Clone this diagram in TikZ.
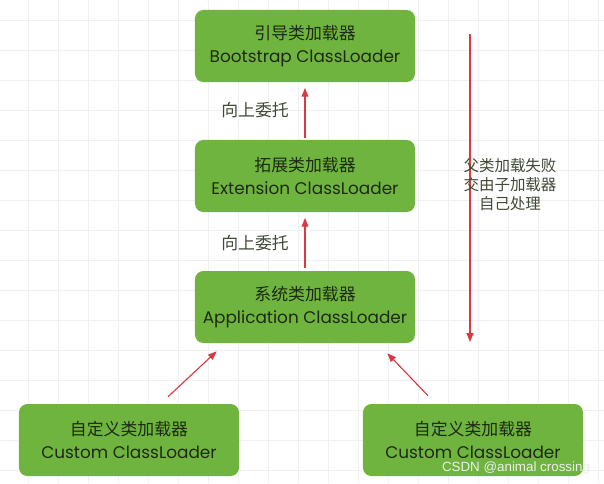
\documentclass[tikz,border=0pt]{standalone}
\usepackage{fontspec}
\setmainfont{Poppins}
\newfontfamily\cjk{Noto Sans CJK SC}
\newfontfamily\wmfont{Liberation Sans}
\usepackage{xcolor}
\usetikzlibrary{calc,arrows.meta,positioning}
\definecolor{loadc}{HTML}{6FB43F}
\definecolor{inkc}{HTML}{1E2A12}
\definecolor{arrc}{HTML}{D93A40}
\definecolor{gridc}{HTML}{F0F0F2}
\tikzset{
  ar/.style={-{Triangle[length=2.2mm,width=1.7mm]},line width=0.8pt,arrc},
  box/.style={fill=loadc,rounded corners=6pt,align=center,inner sep=0pt,
    minimum width=5.5cm,minimum height=1.8cm,text=inkc,font=\fontsize{12}{16}\selectfont},
  lbl/.style={text=inkc!85,font=\cjk\fontsize{12}{15}\selectfont},
  gridln/.style={gridc,line width=0.6pt}
}

\begin{document}
\begin{tikzpicture}[x=0.025cm,y=-0.025cm]
\fill[white] (0,0) rectangle (604,483);
\useasboundingbox (0,0) rectangle (604,483);
% background grid
\foreach \gx in {28,58,...,598} \draw[gridln] (\gx,0) -- (\gx,483);
\foreach \gy in {20,50,...,480} \draw[gridln] (0,\gy) -- (604,\gy);

\node[box] (boot) at (305,46) {{\cjk 引导类加载器}\\Bootstrap ClassLoader};
\node[box] (ext) at (305,176) {{\cjk 拓展类加载器}\\Extension ClassLoader};
\node[box] (app) at (305,307) {{\cjk 系统类加载器}\\Application ClassLoader};
\node[box] (cusl) at (129,440) {{\cjk 自定义类加载器}\\Custom ClassLoader};
\node[box] (cusr) at (473,440) {{\cjk 自定义类加载器}\\Custom ClassLoader};

% delegate upwards
\draw[ar,shorten >=4pt,shorten <=1pt] (ext.north) -- (boot.south);
\draw[ar,shorten >=4pt,shorten <=2pt] (app.north) -- (ext.south);
\node[lbl] (up1) at (255,110) {向上委托};
\node[lbl] (up2) at (255,243) {向上委托};
\draw[ar] ($(cusl.north)+(39,-7)$) -- ($(app.south west)+(22,8)$);
\draw[ar] ($(cusr.north)+(-45,-8)$) -- ($(app.south east)+(-28,10)$);

% parent failed, child handles it
\coordinate (failtop) at (470,34);
\coordinate (failbot) at (470,342);
\draw[ar] (failtop) -- (failbot);
\node[lbl,align=center,font=\cjk\fontsize{11}{13.5}\selectfont] (fail) at (510,185) {父类加载失败\\交由子加载器\\自己处理};

\node[font=\wmfont\fontsize{9.5}{11}\selectfont,text=white!93!black] (wm) at (516,468) {CSDN @animal crossing};
\end{tikzpicture}
\end{document}
